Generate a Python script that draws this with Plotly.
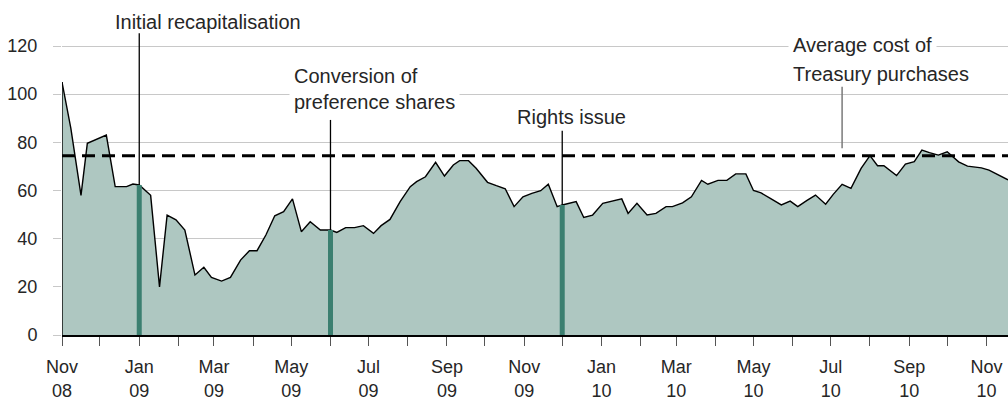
import numpy as np
import pandas as pd
import plotly.graph_objects as go

# ---- data ----
dates = [
    "2008-11-01", "2008-11-08", "2008-11-16", "2008-11-21", "2008-12-06", "2008-12-13", "2008-12-22", "2008-12-27",
    "2009-01-01", "2009-01-10", "2009-01-17", "2009-01-23", "2009-01-30",
    "2009-02-06", "2009-02-14", "2009-02-21", "2009-02-27",
    "2009-03-07", "2009-03-14", "2009-03-22", "2009-03-29",
    "2009-04-04", "2009-04-11", "2009-04-18", "2009-04-25",
    "2009-05-02", "2009-05-09", "2009-05-16", "2009-05-24",
    "2009-06-01", "2009-06-06", "2009-06-13", "2009-06-20", "2009-06-27",
    "2009-07-05", "2009-07-11", "2009-07-18", "2009-07-26",
    "2009-08-03", "2009-08-08", "2009-08-15", "2009-08-23", "2009-08-30",
    "2009-09-06", "2009-09-11", "2009-09-18", "2009-09-24",
    "2009-10-03", "2009-10-10", "2009-10-17", "2009-10-24", "2009-10-31",
    "2009-11-07", "2009-11-14", "2009-11-20", "2009-11-27",
    "2009-12-01", "2009-12-12", "2009-12-18", "2009-12-25",
    "2010-01-02", "2010-01-09", "2010-01-17", "2010-01-22", "2010-01-29",
    "2010-02-06", "2010-02-13", "2010-02-21", "2010-02-26",
    "2010-03-06", "2010-03-13", "2010-03-21", "2010-03-26",
    "2010-04-03", "2010-04-10", "2010-04-17", "2010-04-25",
    "2010-05-01", "2010-05-07", "2010-05-15", "2010-05-23", "2010-05-30",
    "2010-06-05", "2010-06-12", "2010-06-19", "2010-06-27",
    "2010-07-03", "2010-07-10", "2010-07-17", "2010-07-25",
    "2010-08-01", "2010-08-07", "2010-08-12", "2010-08-22", "2010-08-29",
    "2010-09-05", "2010-09-11", "2010-09-17", "2010-09-24",
    "2010-10-01", "2010-10-10", "2010-10-17", "2010-10-28",
    "2010-11-03", "2010-11-11", "2010-11-18",
]
share_price = [
    105, 85.8, 58, 79.6, 83, 61.6, 61.6, 62.7,
    62.3, 58, 20, 49.8, 47.8,
    43.6, 24.9, 28.1, 23.9,
    22.4, 23.9, 31.1, 35,
    35, 41.5, 49.5, 51.2,
    56.5, 42.9, 47, 43.6,
    43.6, 42.6, 44.6, 44.6, 45.4,
    42.2, 45.4, 48, 55.4,
    61.6, 63.7, 65.7, 71.7, 66,
    70.6, 72.4, 72.4, 69.2,
    63.4, 62, 60.7, 53.3, 57.4,
    58.8, 59.9, 62.6, 53.3,
    54, 55.4, 48.8, 49.8,
    54.7, 55.5, 56.5, 50.5, 54.7,
    49.8, 50.5, 53.3, 53.3,
    54.9, 57.4, 64.2, 62.6,
    64.2, 64.2, 66.9, 66.9,
    60, 59, 56.5, 54, 55.6,
    53.3, 55.8, 58.1, 54.3,
    58.4, 62.6, 60.9, 69.2,
    74.5, 70.3, 70.3, 66.2, 71,
    72, 76.8, 75.7, 74.7,
    76.1, 71.9, 70.1, 69.4,
    68.5, 66.4, 64.4,
]
average_cost = 74.4
event_dates = ["2009-01-01", "2009-06-01", "2009-12-01"]
event_labels = ["Initial recapitalisation", "Conversion of<br>preference shares", "Rights issue"]
event_line_tops = [125.3, 89.3, 84.8]
avg_label_date = "2010-07-10"

tick_dates = ["2008-11-01", "2009-01-01", "2009-03-01", "2009-05-01", "2009-07-01", "2009-09-01",
              "2009-11-01", "2010-01-01", "2010-03-01", "2010-05-01", "2010-07-01", "2010-09-01", "2010-11-01"]
tick_text = ["Nov<br>08", "Jan<br>09", "Mar<br>09", "May<br>09", "Jul<br>09", "Sep<br>09",
             "Nov<br>09", "Jan<br>10", "Mar<br>10", "May<br>10", "Jul<br>10", "Sep<br>10", "Nov<br>10"]
y_ticks = [0, 20, 40, 60, 80, 100, 120]

# ---- figure ----
FONT = "Liberation Sans, Arial, Helvetica, sans-serif"
TXT = "#262626"
FILL = "#aec7c1"
TEAL = "#3b7f70"

d_num = pd.to_datetime(dates).astype("int64").to_numpy()
ev_num = pd.to_datetime(event_dates).astype("int64").to_numpy()
ev_vals = np.interp(ev_num, d_num, share_price)

fig = go.Figure()
fig.add_trace(go.Scatter(x=dates, y=share_price, mode="lines", fill="tozeroy",
                         fillcolor=FILL, line=dict(color="black", width=1.4), hoverinfo="skip"))
# left edge of area
fig.add_trace(go.Scatter(x=[dates[0], dates[0]], y=[0, share_price[0]], mode="lines",
                         line=dict(color="black", width=1.4), hoverinfo="skip"))

for d, v, top in zip(event_dates, ev_vals, event_line_tops):
    fig.add_trace(go.Scatter(x=[d, d], y=[v, top], mode="lines",
                             line=dict(color="black", width=1.3), hoverinfo="skip"))
    fig.add_trace(go.Scatter(x=[d, d], y=[0, v], mode="lines",
                             line=dict(color=TEAL, width=5), hoverinfo="skip"))

shapes = [
    dict(type="line", xref="paper", yref="y", x0=0, x1=1, y0=average_cost, y1=average_cost,
         line=dict(color="black", width=3, dash="13px,7px"), layer="above"),
    dict(type="line", xref="x", yref="y", x0=avg_label_date, x1=avg_label_date,
         y0=average_cost + 3.1, y1=103.1, line=dict(color="#7a7a7a", width=1.5), layer="above"),
]

ann_font = dict(family=FONT, size=20, color=TXT)
annotations = [
    dict(text=event_labels[0], xref="paper", yref="paper", x=0.0539, y=0.934,
         xanchor="left", yanchor="middle", showarrow=False, font=ann_font, align="left"),
    dict(text=event_labels[1], xref="paper", yref="paper", x=0.2400, y=0.7358,
         xanchor="left", yanchor="middle", showarrow=False, font=ann_font, align="left",
         bgcolor="white", borderpad=4),
    dict(text=event_labels[2], xref="paper", yref="paper", x=0.5391, y=0.6507,
         xanchor="center", yanchor="middle", showarrow=False, font=ann_font),
    dict(text="Average cost of", xref="paper", yref="paper", x=0.7671, y=0.8657,
         xanchor="left", yanchor="middle", showarrow=False, font=ann_font,
         bgcolor="white", borderpad=4),
    dict(text="Treasury purchases", xref="paper", yref="paper", x=0.7703, y=0.7791,
         xanchor="left", yanchor="middle", showarrow=False, font=ann_font),
]

fig.update_layout(
    width=1008, height=400,
    margin=dict(l=62, r=0, t=0, b=65),
    paper_bgcolor="white", plot_bgcolor="white",
    showlegend=False,
    font=dict(family=FONT, size=18, color=TXT),
    shapes=shapes, annotations=annotations,
    xaxis=dict(
        type="date", range=["2008-11-01", "2010-11-18"],
        tickmode="array", tickvals=tick_dates, ticktext=tick_text,
        ticks="outside", ticklen=9, tickcolor="#555555", tickwidth=1,
        minor=dict(dtick="M1", tick0="2008-11-01", ticks="outside", ticklen=9,
                   tickcolor="#555555", tickwidth=1, showgrid=False),
        showline=True, linecolor="black", linewidth=1.6,
        showgrid=False, zeroline=False,
        tickfont=dict(family=FONT, size=18, color=TXT),
        ticklabelstandoff=6,
    ),
    yaxis=dict(
        range=[0, 139.1], tickmode="array", tickvals=y_ticks,
        ticks="outside", ticklen=8, tickcolor="#c8c8c8",
        showgrid=True, gridcolor="#c8c8c8", gridwidth=1,
        showline=False, zeroline=False,
        tickfont=dict(family=FONT, size=18, color=TXT),
        ticklabelstandoff=12,
    ),
)

fig.write_html(
    "out.html",
    config={"displayModeBar": False},
    post_script="document.body.style.margin='0';document.body.style.overflow='hidden';",
)
